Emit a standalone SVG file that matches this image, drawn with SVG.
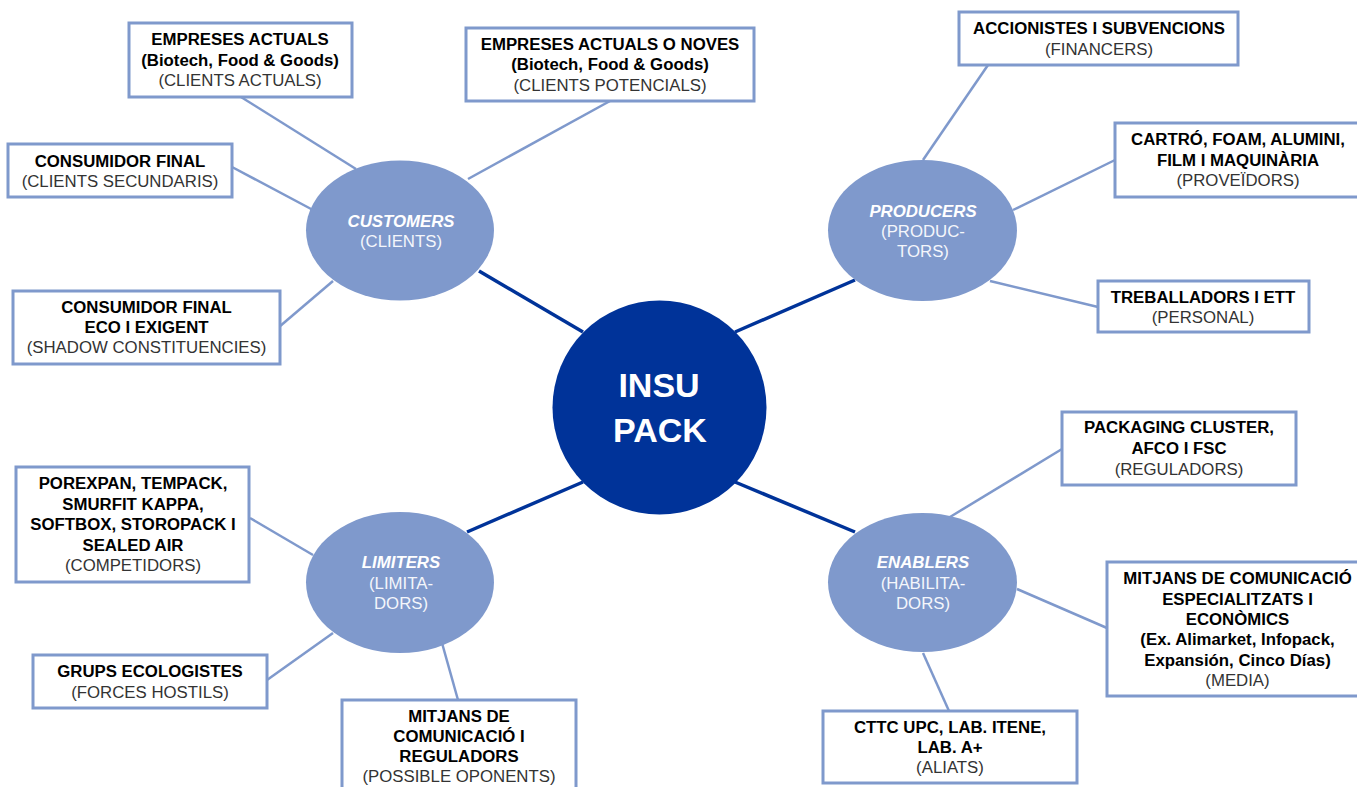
<svg xmlns="http://www.w3.org/2000/svg" width="1357" height="787" viewBox="0 0 1357 787">
<style>
text{font-family:"Liberation Sans",Arial,sans-serif;font-size:16.8px;text-anchor:middle}
.b{font-weight:bold;fill:#000}
.r{fill:#333}
.box{fill:#fff;stroke:#7f99cc;stroke-width:3}
.ell{fill:#7f99cc}
.et{font-weight:bold;font-style:italic;fill:#fff}
.es{fill:#f4f6fb}
.thin{stroke:#7f99cc;stroke-width:2.5;fill:none}
.thick{stroke:#003399;stroke-width:3.5;fill:none}
</style>
<rect width="1357" height="787" fill="#fff"/>
<g id="connectors">
<line class="thick" x1="479" y1="271" x2="583" y2="332"/>
<line class="thick" x1="855" y1="280" x2="735" y2="332"/>
<line class="thick" x1="467" y1="532" x2="583" y2="482"/>
<line class="thick" x1="855" y1="532" x2="735" y2="482"/>
<line class="thin" x1="241" y1="97" x2="356" y2="169"/>
<line class="thin" x1="232" y1="167" x2="313" y2="210"/>
<line class="thin" x1="279" y1="327" x2="333" y2="281"/>
<line class="thin" x1="468" y1="179" x2="610" y2="101"/>
<line class="thin" x1="988" y1="65" x2="923" y2="160"/>
<line class="thin" x1="1013" y1="210" x2="1115" y2="160"/>
<line class="thin" x1="990" y1="281" x2="1098" y2="307"/>
<line class="thin" x1="250" y1="518" x2="313" y2="555"/>
<line class="thin" x1="267" y1="680" x2="333" y2="633"/>
<line class="thin" x1="442" y1="643" x2="458" y2="700"/>
<line class="thin" x1="950" y1="517" x2="1062" y2="449"/>
<line class="thin" x1="1017" y1="589" x2="1107" y2="628"/>
<line class="thin" x1="923" y1="653" x2="949" y2="711"/>
</g>
<g id="insupack">
<circle cx="659.5" cy="407.5" r="107" fill="#003399"/>
<text x="659" y="397" style="font-size:34px;font-weight:bold;fill:#fff">INSU</text>
<text x="660" y="442" style="font-size:34px;font-weight:bold;fill:#fff">PACK</text>
</g>
<g id="customers">
<ellipse class="ell" cx="400" cy="230.5" rx="94" ry="70"/>
<text class="et" x="401" y="227">CUSTOMERS</text>
<text class="es" x="401" y="247">(CLIENTS)</text>
</g>
<g id="producers">
<ellipse class="ell" cx="922.5" cy="230.5" rx="94.5" ry="70.5"/>
<text class="et" x="923" y="217">PRODUCERS</text>
<text class="es" x="923" y="237">(PRODUC-</text>
<text class="es" x="923" y="257">TORS)</text>
</g>
<g id="limiters">
<ellipse class="ell" cx="400" cy="582.5" rx="94" ry="70.5"/>
<text class="et" x="401" y="568">LIMITERS</text>
<text class="es" x="401" y="589">(LIMITA-</text>
<text class="es" x="401" y="609">DORS)</text>
</g>
<g id="enablers">
<ellipse class="ell" cx="922.5" cy="582.5" rx="94.5" ry="69.5"/>
<text class="et" x="923" y="568">ENABLERS</text>
<text class="es" x="923" y="589">(HABILITA-</text>
<text class="es" x="923" y="609">DORS)</text>
</g>
<g id="empreses-actuals">
<rect class="box" x="129" y="23" width="223" height="74"/>
<text class="b" x="240" y="45">EMPRESES ACTUALS</text>
<text class="b" x="240" y="65.5">(Biotech, Food &amp; Goods)</text>
<text class="r" x="240" y="86">(CLIENTS ACTUALS)</text>
</g>
<g id="empreses-noves">
<rect class="box" x="466" y="28" width="288" height="73"/>
<text class="b" x="610" y="49.5">EMPRESES ACTUALS O NOVES</text>
<text class="b" x="610" y="70">(Biotech, Food &amp; Goods)</text>
<text class="r" x="610" y="90.5">(CLIENTS POTENCIALS)</text>
</g>
<g id="consumidor-final">
<rect class="box" x="8" y="144" width="224" height="53"/>
<text class="b" x="120" y="167">CONSUMIDOR FINAL</text>
<text class="r" x="120" y="187">(CLIENTS SECUNDARIS)</text>
</g>
<g id="consumidor-eco">
<rect class="box" x="13" y="291" width="267" height="73"/>
<text class="b" x="146.5" y="313">CONSUMIDOR FINAL</text>
<text class="b" x="146.5" y="333">ECO I EXIGENT</text>
<text class="r" x="146.5" y="353">(SHADOW CONSTITUENCIES)</text>
</g>
<g id="accionistes">
<rect class="box" x="959" y="12" width="279" height="53"/>
<text class="b" x="1099" y="34">ACCIONISTES I SUBVENCIONS</text>
<text class="r" x="1099" y="55">(FINANCERS)</text>
</g>
<g id="proveidors">
<rect class="box" x="1115" y="123" width="250" height="74"/>
<text class="b" x="1238" y="145">CARTRÓ, FOAM, ALUMINI,</text>
<text class="b" x="1238" y="165.5">FILM I MAQUINÀRIA</text>
<text class="r" x="1238" y="186">(PROVEÏDORS)</text>
</g>
<g id="personal">
<rect class="box" x="1098" y="281" width="211" height="51"/>
<text class="b" x="1203" y="303">TREBALLADORS I ETT</text>
<text class="r" x="1203" y="323">(PERSONAL)</text>
</g>
<g id="competidors">
<rect class="box" x="16" y="467" width="233" height="115"/>
<text class="b" x="133" y="489">POREXPAN, TEMPACK,</text>
<text class="b" x="133" y="510">SMURFIT KAPPA,</text>
<text class="b" x="133" y="530">SOFTBOX, STOROPACK I</text>
<text class="b" x="133" y="551">SEALED AIR</text>
<text class="r" x="133" y="571">(COMPETIDORS)</text>
</g>
<g id="grups-ecologistes">
<rect class="box" x="33" y="655" width="234" height="53"/>
<text class="b" x="150" y="677">GRUPS ECOLOGISTES</text>
<text class="r" x="150" y="698">(FORCES HOSTILS)</text>
</g>
<g id="possible-oponents">
<rect class="box" x="342" y="700" width="234" height="100"/>
<text class="b" x="459" y="722">MITJANS DE</text>
<text class="b" x="459" y="742">COMUNICACIÓ I</text>
<text class="b" x="459" y="762">REGULADORS</text>
<text class="r" x="459" y="782">(POSSIBLE OPONENTS)</text>
</g>
<g id="reguladors">
<rect class="box" x="1062" y="412" width="234" height="73"/>
<text class="b" x="1179" y="433">PACKAGING CLUSTER,</text>
<text class="b" x="1179" y="454">AFCO I FSC</text>
<text class="r" x="1179" y="475">(REGULADORS)</text>
</g>
<g id="media">
<rect class="box" x="1107" y="562" width="262" height="134"/>
<text class="b" x="1237.5" y="584">MITJANS DE COMUNICACIÓ</text>
<text class="b" x="1237.5" y="604.5">ESPECIALITZATS I</text>
<text class="b" x="1237.5" y="625">ECONÒMICS</text>
<text class="b" x="1237.5" y="645">(Ex. Alimarket, Infopack,</text>
<text class="b" x="1237.5" y="665.5">Expansión, Cinco Días)</text>
<text class="r" x="1237.5" y="686">(MEDIA)</text>
</g>
<g id="aliats">
<rect class="box" x="823" y="711" width="254" height="72"/>
<text class="b" x="950" y="733">CTTC UPC, LAB. ITENE,</text>
<text class="b" x="950" y="753">LAB. A+</text>
<text class="r" x="950" y="773">(ALIATS)</text>
</g>
</svg>
